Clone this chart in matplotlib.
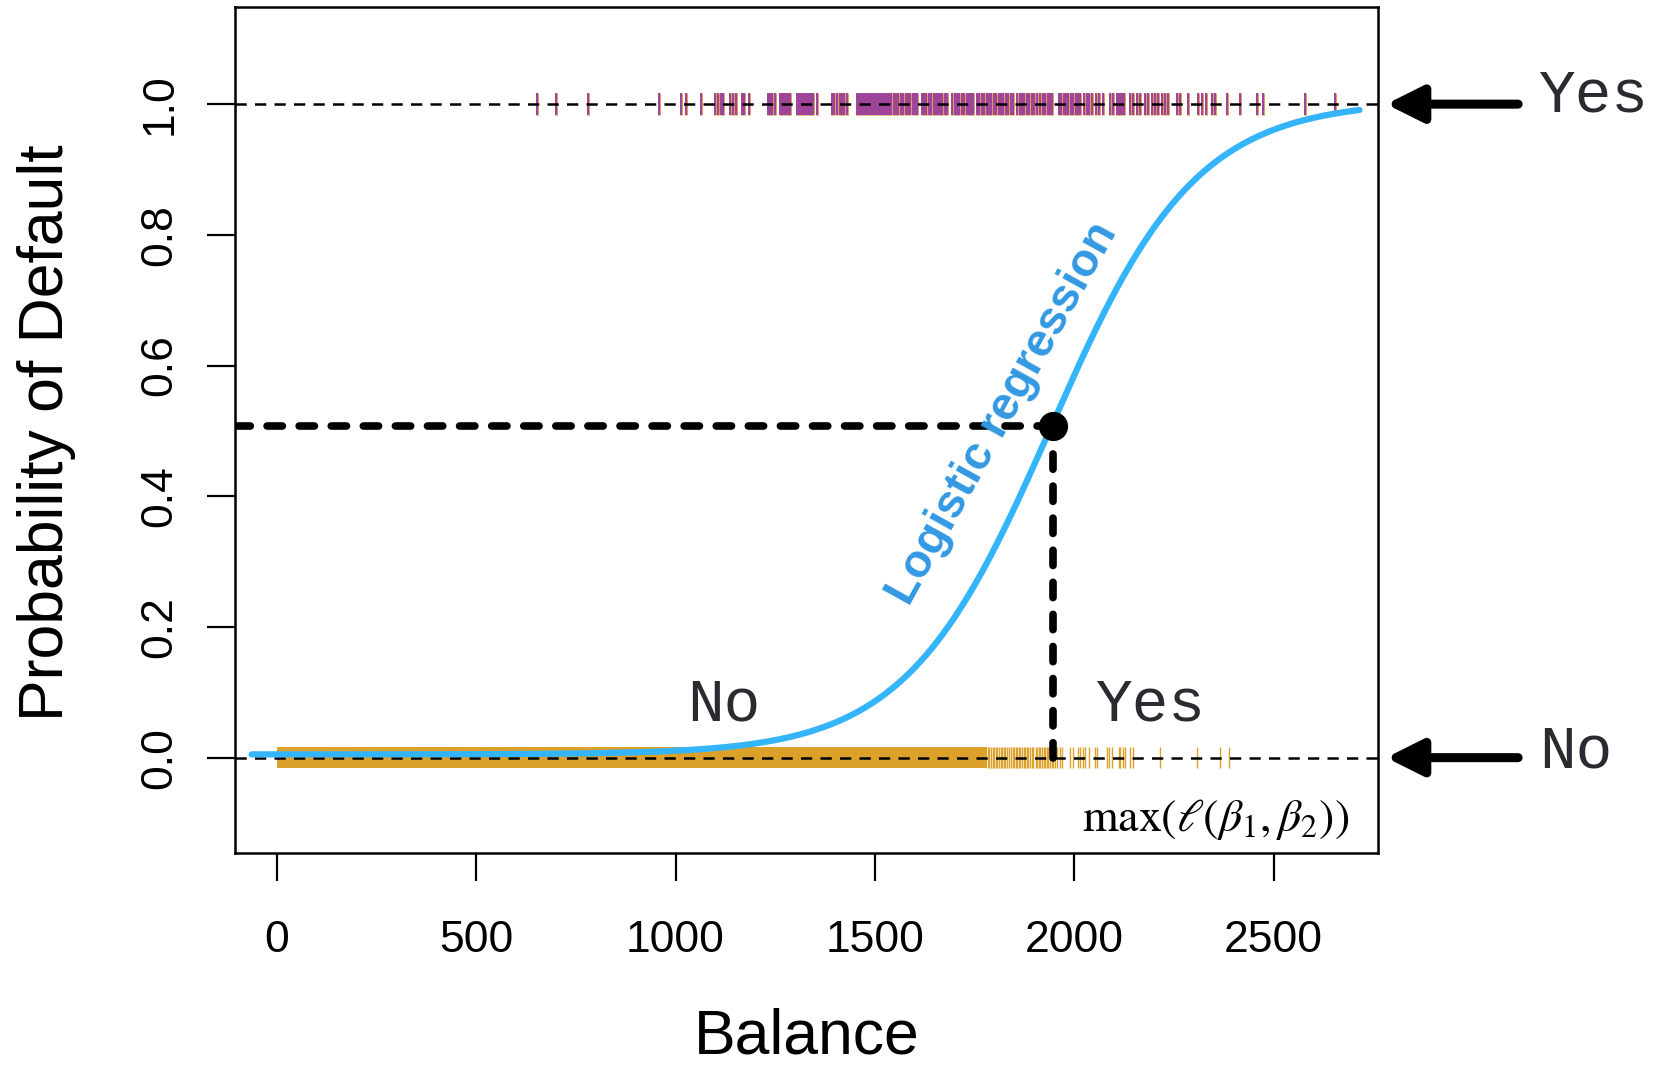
import numpy as np
import matplotlib.pyplot as plt

# fitted logistic model
b0 = -10.675
b1 = 0.0055
curve_start = -63
curve_end = 2715
point_x = 1946
point_y = 0.507

# balances of the defaulters (top rug)
yes_balance = [652, 699, 781, 959, 1014, 1025, 1065, 1099, 1107, 1113, 1120, 1137,
               1145, 1152, 1166, 1172, 1183,
               1233, 1238, 1243, 1250, 1262, 1267, 1272, 1277, 1282, 1287,
               1304, 1309, 1314, 1319, 1324, 1329, 1334, 1339, 1344, 1355,
               1392, 1398, 1404, 1413, 1418, 1423, 1429,
               1454, 1459, 1464, 1469, 1474, 1479, 1484, 1489, 1494, 1499, 1504,
               1509, 1514, 1519, 1524, 1530,
               1535, 1541, 1547, 1553, 1559, 1565, 1571, 1577, 1583, 1589, 1595,
               1601, 1605,
               1617, 1623, 1629, 1635, 1641, 1647, 1653, 1659, 1663, 1669, 1675, 1680,
               1694, 1700, 1706, 1712, 1718, 1724, 1730, 1736, 1742, 1747,
               1756, 1762, 1768, 1774, 1780,
               1786, 1792, 1798, 1804, 1810, 1816, 1822, 1828, 1834, 1840, 1847,
               1857, 1863, 1869, 1875, 1881, 1887, 1893, 1899, 1906,
               1915, 1921, 1927, 1933, 1939, 1945,
               1961, 1967, 1973, 1979, 1985, 1991, 1997, 2003, 2009, 2015,
               2024, 2031, 2038, 2044, 2055, 2063, 2071, 2090, 2098, 2106, 2111,
               2115, 2119, 2124, 2140, 2148, 2157, 2165, 2177, 2186, 2195, 2203,
               2211, 2220, 2228, 2236, 2257, 2266, 2286, 2309, 2320, 2331, 2345,
               2353, 2383, 2416, 2458, 2473, 2579, 2654]

# balances of the non-defaulters (bottom rug): a solid run, then single ticks
no_dense_lo = 0
no_dense_hi = 1780
no_balance = [1783, 1787, 1791, 1795, 1799, 1803, 1807, 1811, 1815, 1819, 1823,
              1827, 1831, 1835, 1841, 1845, 1849, 1853, 1857, 1861, 1865, 1869,
              1873, 1877, 1881, 1885, 1889, 1893, 1897, 1903, 1907, 1911, 1915,
              1919, 1923, 1927, 1931, 1935, 1939, 1943, 1947, 1951, 1956, 1963,
              1970, 1990, 1996, 2008, 2015, 2021, 2027, 2036, 2052, 2057, 2082,
              2088, 2094, 2111, 2115, 2122, 2128, 2140, 2147, 2215, 2307, 2366,
              2387]

xticks = [0, 500, 1000, 1500, 2000, 2500]
yticks = [0.0, 0.2, 0.4, 0.6, 0.8, 1.0]
ytick_labels = ['0.0', '0.2', '0.4', '0.6', '0.8', '1.0']

blue = '#33B4FB'
orange = '#DBA12A'
purple = '#9E449C'
mono = 'Liberation Mono'
sans = 'Liberation Sans'
ink = '#2a2a30'

plt.rcParams['mathtext.fontset'] = 'stix'

fig = plt.figure(figsize=(16.66, 10.65), dpi=100)
ax = fig.add_axes([0.141, 0.199, 0.686, 0.7944])
ax.set_xlim(-105, 2761)
ax.set_ylim(-0.146, 1.1486)

# rugs
ax.fill_between([no_dense_lo, no_dense_hi], -0.016, 0.016, color=orange, lw=0, zorder=1)
ax.vlines(no_balance, -0.016, 0.016, color=orange, lw=1.0, zorder=1)
ax.vlines(yes_balance, 0.983, 1.017, color='#D98A30', lw=1.9, zorder=1)
ax.vlines(yes_balance, 0.983, 1.017, color=purple, lw=1.4, zorder=1)

# reference lines at 0 and 1
for yv in [0.0, 1.0]:
    ax.axhline(yv, color='black', lw=1.8, ls=(0, (4.5, 3.3)), zorder=2)

# logistic curve
xs = np.linspace(curve_start, curve_end, 400)
ps = 1 / (1 + np.exp(-(b0 + b1 * xs)))
ax.plot(xs, ps + 0.005, color=blue, lw=4.5, solid_capstyle='round', zorder=3)

# threshold lines and point
ax.hlines(point_y, -105, point_x, color='black', lw=5.5, ls=(0, (2, 2.2)),
          capstyle='round', zorder=4)
ax.vlines(point_x, 0.0, point_y, color='black', lw=5.5, ls=(0, (2, 2.2)),
          capstyle='round', zorder=4)
ax.plot([point_x], [point_y], 'o', color='black', ms=20, zorder=5)

# texts inside
ax.text(1822, 0.527, 'Logistic regression', color='#3399E3', fontsize=33.5,
        fontweight='bold', family=sans, rotation=61, ha='center', va='center',
        rotation_mode='anchor', zorder=6)
ax.text(1120, 0.057, 'No', family=mono, fontsize=44, color=ink, ha='center', va='baseline')
ax.text(2193, 0.057, 'Yes', family=mono, fontsize=44, color=ink, ha='center', va='baseline')
ax.text(2689, -0.094, r'$\max\left(\ell\left(\beta_1,\beta_2\right)\right)$',
        fontsize=33, ha='right', va='center', color='black')

# arrows on the right
for yv, lab, base in [(1.0, 'Yes', 0.9885), (0.0, 'No', -0.0144)]:
    ax.annotate('', xy=(2782, yv), xytext=(3113, yv), annotation_clip=False,
                arrowprops=dict(arrowstyle='-|>,head_length=2.2,head_width=1.1',
                                lw=6.5, color='black', shrinkA=0, shrinkB=0,
                                capstyle='round', mutation_scale=10))
    ax.text(3165, base, lab, family=mono, fontsize=44, color=ink,
            ha='left', va='baseline', clip_on=False)

ax.set_xticks(xticks)
ax.set_xticklabels([str(v) for v in xticks], fontsize=32, family=sans)
ax.set_yticks(yticks)
ax.set_yticklabels(ytick_labels, fontsize=32, family=sans, rotation=90, va='center')
ax.tick_params(axis='both', length=20, width=1.6, direction='out')
ax.tick_params(axis='x', pad=28)
ax.tick_params(axis='y', pad=19)
for sp in ax.spines.values():
    sp.set_linewidth(1.8)

fig.text(0.484, 0.026, 'Balance', fontsize=45, family=sans, ha='center', va='center')
fig.text(0.028, 0.594, 'Probability of Default', fontsize=45, family=sans,
         rotation=90, ha='center', va='center')

fig.savefig('out.png', dpi=100)
